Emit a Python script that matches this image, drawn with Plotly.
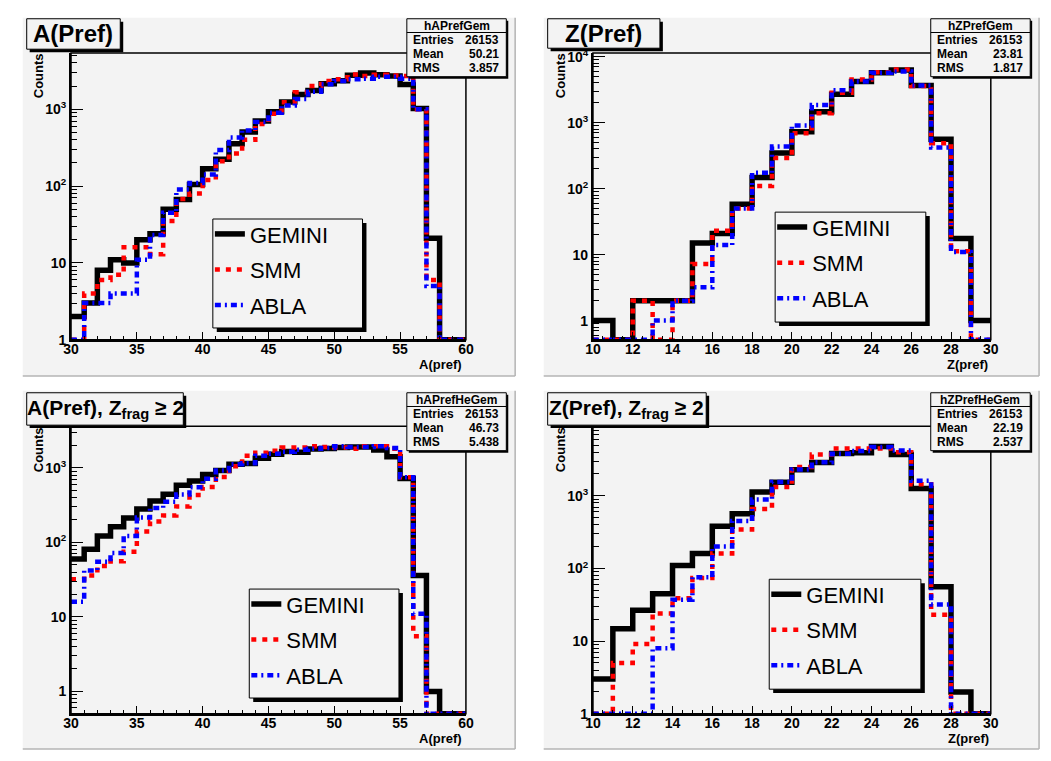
import plotly.graph_objects as go

W, H = 1051, 761
FONT = "Liberation Sans, Arial, sans-serif"
PAD_GRAY = "#f3f3f3"

# ---------------- data ----------------
MODEL_NAMES = ["GEMINI", "SMM", "ABLA"]
A_BINS = list(range(30, 60))   # lower bin edges, width 1
Z_BINS = list(range(10, 30))

GEMINI_A = [2, 3, 8, 11, 10, 20, 24, 50, 67, 105, 168, 224, 356, 505, 700, 930, 1240, 1550,
            1750, 2140, 2340, 2760, 2950, 2800, 2700, 2100, 1020, 21, 0, 0]
SMM_A = [0, 4, 6, 7, 16, 16, 13, 35, 68, 80, 120, 210, 265, 400, 640, 870, 1230, 1660,
         2000, 2330, 2450, 2830, 2700, 2800, 2750, 2700, 1000, 6, 0, 0]
ABLA_A = [0, 3, 3, 4, 4, 11, 23, 45, 90, 110, 141, 295, 430, 530, 680, 900, 1120, 1360,
          1690, 2110, 2330, 2450, 2500, 2640, 2640, 2500, 1000, 5, 0, 0]

GEMINI_Z = [1, 0, 2, 2, 2, 15, 21, 58, 148, 346, 730, 1470, 2700, 4200, 5700, 6300, 3650, 560, 17.5, 1]
SMM_Z = [0, 0, 2, 0, 2, 7.2, 23, 50, 110, 292, 690, 1390, 2850, 4500, 5800, 6400, 3600, 490, 11.3, 0]
ABLA_Z = [0, 0, 0, 1, 2, 3.2, 14, 50, 174, 437, 910, 1860, 3100, 4200, 5700, 6000, 3660, 420, 11, 0]

GEMINI_AHE = [60, 81, 122, 162, 213, 280, 360, 444, 584, 665, 815, 922, 1120, 1140, 1350, 1520,
              1660, 1620, 1790, 1820, 1870, 1900, 1900, 1740, 1410, 718, 36, 1, 0, 0]
SMM_AHE = [32, 36, 48, 56, 75, 140, 190, 230, 303, 433, 555, 755, 1050, 1450, 1600, 1700,
           1870, 1870, 1950, 1900, 1870, 1800, 1950, 1950, 1800, 750, 5.5, 0, 0, 0]
ABLA_AHE = [16, 42, 55, 72, 122, 215, 290, 350, 440, 550, 714, 920, 1120, 1150, 1450, 1550,
            1650, 1750, 1800, 1850, 1950, 1900, 1900, 1950, 1850, 750, 11, 0, 0, 0]

GEMINI_ZHE = [3, 14.8, 26.5, 45, 110, 161, 380, 565, 1130, 1540, 2290, 2880, 3820, 3930, 4800, 3700, 1260, 56, 2, 0]
SMM_ZHE = [0, 5, 9.1, 24, 39, 74, 161, 345, 660, 1320, 2500, 3700, 4500, 4500, 4500, 4000, 1440, 23, 0, 0]
ABLA_ZHE = [0, 0, 0, 8, 37, 76, 200, 450, 890, 1550, 2300, 2900, 3800, 4150, 4700, 4200, 1620, 32, 0, 0]

STATS_NAMES = ["hAPrefGem", "hZPrefGem", "hAPrefHeGem", "hZPrefHeGem"]
STATS_ENTRIES = ["26153", "26153", "26153", "26153"]
STATS_MEAN = ["50.21", "23.81", "46.73", "22.19"]
STATS_RMS = ["3.857", "1.817", "5.438", "2.537"]
TITLES = ["A(Pref)", "Z(Pref)", "A(Pref), Z<sub>frag</sub> ≥ 2", "Z(Pref), Z<sub>frag</sub> ≥ 2"]
XLABELS = ["A(pref)", "Z(pref)", "A(pref)", "Z(pref)"]
Y_TICK_VALS = [1, 10, 100, 1000, 10000]
Y_TICK_TEXT = ["1", "10", "10<sup>2</sup>", "10<sup>3</sup>", "10<sup>4</sup>"]

# ---------------- layout geometry (pixels) ----------------
PANELS = [
    dict(bins=A_BINS, series=[GEMINI_A, SMM_A, ABLA_A], xr=[30, 60], xd=5, xm=1, yr=[0.0, 3.73],
         plot=(64, 48, 465, 340), pad=(15, 12, 515, 377), tbox=(19, 13, 114, 44), tsize=24,
         sbox=(405, 13, 506, 72), lbox=(208, 217, 360, 328), counts=(31, 71), xl=(463, 365)),
    dict(bins=Z_BINS, series=[GEMINI_Z, SMM_Z, ABLA_Z], xr=[10, 30], xd=2, xm=0.5, yr=[-0.29, 4.055],
         plot=(594, 48, 998, 340), pad=(544, 12, 1047, 377), tbox=(548, 13, 662, 43), tsize=24,
         sbox=(937, 13, 1038, 72), lbox=(779, 210, 932, 322), counts=(561, 71), xl=(997, 365)),
    dict(bins=A_BINS, series=[GEMINI_AHE, SMM_AHE, ABLA_AHE], xr=[30, 60], xd=5, xm=1, yr=[-0.30, 3.56],
         plot=(64, 428, 465, 721), pad=(15, 392, 515, 757), tbox=(19, 394, 178, 427), tsize=21,
         sbox=(405, 394, 506, 453), lbox=(245, 594, 397, 705), counts=(31, 452), xl=(463, 746)),
    dict(bins=Z_BINS, series=[GEMINI_ZHE, SMM_ZHE, ABLA_ZHE], xr=[10, 30], xd=2, xm=0.5, yr=[0.0, 3.96],
         plot=(594, 428, 998, 721), pad=(544, 392, 1047, 757), tbox=(548, 394, 709, 427), tsize=21,
         sbox=(937, 394, 1038, 453), lbox=(773, 584, 927, 696), counts=(561, 452), xl=(998, 746)),
]

STYLES = [
    dict(color="black", width=5.5, dash="solid"),
    dict(color="#ff0000", width=4.5, dash="5px,6px"),
    dict(color="#0000ff", width=4.5, dash="6px,4px,2px,4px"),
]


def px(x):
    return x / W


def py(y):
    return 1 - y / H


fig = go.Figure()
shapes = []
annotations = []
layout = {}

minor_log = [m * 10 ** e for e in range(-1, 5) for m in range(2, 10)]

for i, p in enumerate(PANELS):
    n = "" if i == 0 else str(i + 1)
    xa, ya = "x" + n, "y" + n
    leg = "legend" + n
    x0, y0, x1, y1 = p["plot"]
    ymin = 10 ** p["yr"][0]
    edges = p["bins"] + [p["bins"][-1] + 1]
    for k, (name, vals) in enumerate(zip(MODEL_NAMES, p["series"])):
        yv = [max(v, ymin) for v in vals]
        yv = yv + [yv[-1]]
        st = STYLES[k]
        fig.add_trace(go.Scatter(
            x=edges, y=yv, mode="lines", line_shape="hv", name=name,
            line=dict(color=st["color"], width=st["width"], dash=st["dash"]),
            xaxis=xa, yaxis=ya, legend=leg, legendgroup=f"{i}_{k}", showlegend=True,
            hoverinfo="skip"))

    tickfont = dict(family=FONT, size=14, color="black", weight="bold")
    layout["xaxis" + n] = dict(
        domain=[px(x0), px(x1)], anchor=ya, range=p["xr"], tick0=p["xr"][0], dtick=p["xd"],
        ticks="inside", ticklen=8, tickwidth=1, tickcolor="black", ticklabelstandoff=-5,
        minor=dict(ticks="inside", ticklen=4, dtick=p["xm"], tick0=p["xr"][0], tickcolor="black", showgrid=False),
        showline=True, linewidth=2, linecolor="black", showgrid=False, zeroline=False,
        tickfont=tickfont, fixedrange=True)
    layout["yaxis" + n] = dict(
        domain=[py(y1), py(y0)], anchor=xa, type="log", range=p["yr"],
        tickmode="array", tickvals=Y_TICK_VALS, ticktext=Y_TICK_TEXT,
        ticks="inside", ticklen=12, tickwidth=1, tickcolor="black",
        minor=dict(ticks="inside", ticklen=6, tickmode="array", tickvals=minor_log, tickcolor="black", showgrid=False),
        showline=True, linewidth=2, linecolor="black", showgrid=False, zeroline=False,
        tickfont=tickfont, fixedrange=True)

    # pad background + border
    a0, b0, a1, b1 = p["pad"]
    shapes.append(dict(type="rect", xref="paper", yref="paper", x0=px(a0), x1=px(a1), y0=py(b1), y1=py(b0),
                       fillcolor=PAD_GRAY, line=dict(width=0), layer="below"))
    shapes.append(dict(type="line", xref="paper", yref="paper", x0=px(a0), x1=px(a1), y0=py(b1), y1=py(b1),
                       line=dict(color="#b4b4b4", width=1.5), layer="below"))
    shapes.append(dict(type="line", xref="paper", yref="paper", x0=px(a1), x1=px(a1), y0=py(b1), y1=py(b0),
                       line=dict(color="#b4b4b4", width=1.5), layer="below"))
    # frame
    shapes.append(dict(type="rect", xref="paper", yref="paper", x0=px(x0), x1=px(x1), y0=py(y1), y1=py(y0),
                       line=dict(color="black", width=1.5), layer="above"))

    def box(b, sh=3):
        bx0, by0, bx1, by1 = b
        shapes.append(dict(type="rect", xref="paper", yref="paper", x0=px(bx0 + sh), x1=px(bx1 + sh),
                           y0=py(by1 + sh), y1=py(by0 + sh), fillcolor="black", line=dict(width=0), layer="above"))
        shapes.append(dict(type="rect", xref="paper", yref="paper", x0=px(bx0), x1=px(bx1),
                           y0=py(by1), y1=py(by0), fillcolor=PAD_GRAY, line=dict(color="black", width=1),
                           layer="above"))

    # title box
    box(p["tbox"], 3)
    tx0, ty0, tx1, ty1 = p["tbox"]
    annotations.append(dict(xref="paper", yref="paper", x=px((tx0 + tx1) / 2), y=py((ty0 + ty1) / 2),
                            text="<b>" + TITLES[i] + "</b>", showarrow=False, xanchor="center", yanchor="middle",
                            font=dict(family=FONT, size=p["tsize"], color="black")))

    # stats box
    box(p["sbox"], 2)
    sx0, sy0, sx1, sy1 = p["sbox"]
    shapes.append(dict(type="line", xref="paper", yref="paper", x0=px(sx0), x1=px(sx1), y0=py(sy0 + 14),
                       y1=py(sy0 + 14), line=dict(color="black", width=1), layer="above"))
    sfont = dict(family=FONT, size=12, color="black")
    annotations.append(dict(xref="paper", yref="paper", x=px((sx0 + sx1) / 2), y=py(sy0 + 7.5),
                            text="<b>" + STATS_NAMES[i] + "</b>", showarrow=False, xanchor="center",
                            yanchor="middle", font=sfont))
    for r, (lab, val) in enumerate(zip(["Entries", "Mean", "RMS"],
                                      [STATS_ENTRIES[i], STATS_MEAN[i], STATS_RMS[i]])):
        yy = py(sy0 + 22 + r * 14)
        annotations.append(dict(xref="paper", yref="paper", x=px(sx0 + 4), y=yy, text="<b>" + lab + "</b>",
                                showarrow=False, xanchor="left", yanchor="middle", font=sfont))
        annotations.append(dict(xref="paper", yref="paper", x=px(sx1 - 5), y=yy, text="<b>" + val + "</b>",
                                showarrow=False, xanchor="right", yanchor="middle", font=sfont))

    # legend box
    box(p["lbox"], 4)
    lx0, ly0, lx1, ly1 = p["lbox"]
    layout[leg] = dict(x=px(lx0 - 3), y=py(ly0 - 6), xanchor="left", yanchor="top",
                       bgcolor="rgba(0,0,0,0)", borderwidth=0, traceorder="grouped",
                       tracegroupgap=4, itemwidth=30,
                       font=dict(family=FONT, size=22, color="black"))

    # axis titles
    cx, cy = p["counts"]
    annotations.append(dict(xref="paper", yref="paper", x=px(cx), y=py(cy), text="<b>Counts</b>",
                            textangle=-90, showarrow=False, xanchor="center", yanchor="middle",
                            font=dict(family=FONT, size=13, color="black")))
    xlx, xly = p["xl"]
    annotations.append(dict(xref="paper", yref="paper", x=px(xlx), y=py(xly), text="<b>" + XLABELS[i] + "</b>",
                            showarrow=False, xanchor="right", yanchor="middle",
                            font=dict(family=FONT, size=13, color="black")))

fig.update_layout(
    width=W, height=H, margin=dict(l=0, r=0, t=0, b=0),
    paper_bgcolor="white", plot_bgcolor="rgba(0,0,0,0)",
    shapes=shapes, annotations=annotations, **layout)

fig.write_html("out.html")
